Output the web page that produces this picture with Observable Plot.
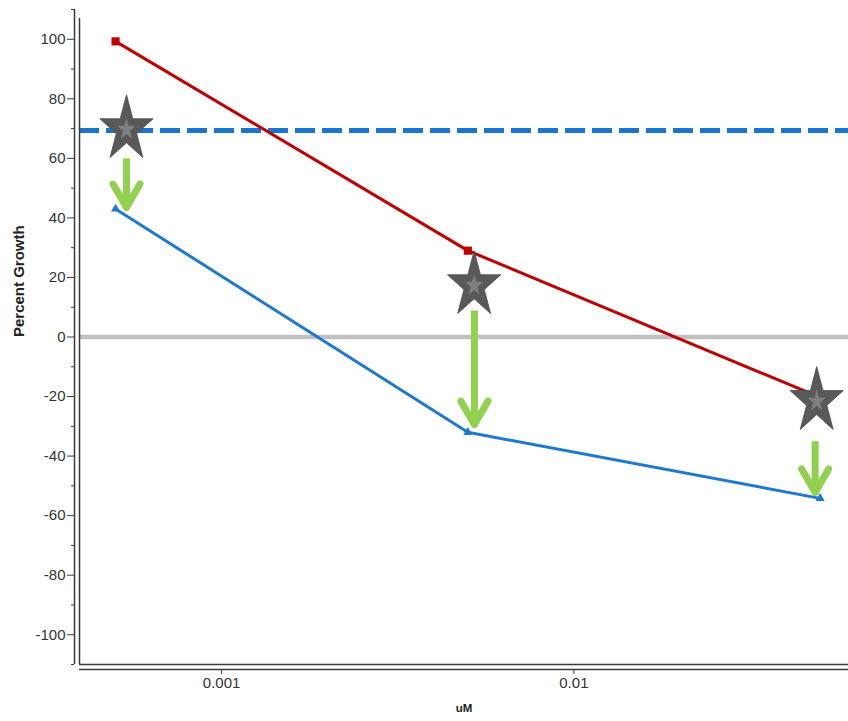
<!DOCTYPE html>
<html>
<head>
<meta charset="utf-8">
<script src="https://cdn.jsdelivr.net/npm/d3@7"></script>
<script src="https://cdn.jsdelivr.net/npm/@observablehq/plot@0.6"></script>
<style>
  html, body { margin: 0; padding: 0; background: #fff; }
</style>
</head>
<body>
<div id="chart"></div>
<script>
// Concentrations tested (uM)
const concentrations = [0.0005, 0.005, 0.05];
// Percent growth of the two series at each concentration
const redSeries = [99.3, 29, -20.3];
const blueSeries = [43, -32, -54.2];

// Reference levels
const thresholdLevel = 69.4;
const zeroLevel = 0;

// Star callouts
const starX = [0.000537, 0.00521, 0.0489];
const starY = [69.7, 17.3, -21.6];

// Arrows dropping from each star toward the blue series
const arrowX = [0.000537, 0.00522, 0.0484];
const arrowFrom = [60, 8.9, -35];
const arrowTo = [43.5, -29.4, -52.2];

// Axis setup
const xDomain = [0.000395, 0.0602];
const yDomain = [-110, 110];
const xTicks = [0.001, 0.01];
const xTickLabels = ["0.001", "0.01"];
const yTicks = [-100, -80, -60, -40, -20, 0, 20, 40, 60, 80, 100];
const yMinorTicks = [-110, -90, -70, -50, -30, -10, 10, 30, 50, 70, 90, 110];

const rows = concentrations.map((c, i) => ({c, red: redSeries[i], blue: blueSeries[i]}));
const stars = starX.map((x, i) => ({x, y: starY[i]}));
const arrows = arrowX.map((x, i) => ({x, from: arrowFrom[i], to: arrowTo[i]}));

// Five-pointed star, stretched vertically
function tallStar(stretch) {
  return {
    draw(context, size) {
      const r = Math.sqrt(size / Math.PI);
      const inner = r * 0.382;
      for (let i = 0; i < 10; i++) {
        const rad = i % 2 ? inner : r;
        const a = -Math.PI / 2 + i * Math.PI / 5;
        const px = rad * Math.cos(a);
        const py = rad * Math.sin(a) * stretch;
        if (i) context.lineTo(px, py); else context.moveTo(px, py);
      }
      context.closePath();
    }
  };
}

// Open arrowhead with its apex at the anchor point
const chevron = {
  draw(context, size) {
    const r = Math.sqrt(size / Math.PI);
    const a = 30 * Math.PI / 180;
    context.moveTo(-r * Math.sin(a), -r * Math.cos(a));
    context.lineTo(0, 0);
    context.lineTo(r * Math.sin(a), -r * Math.cos(a));
  }
};

const axisColor = "#3a3a3a";
const green = "#92d050";

const chart = Plot.plot({
  width: 848,
  height: 721,
  marginLeft: 79,
  marginRight: 0,
  marginTop: 9,
  marginBottom: 57,
  style: {
    fontFamily: "'Liberation Sans', Arial, sans-serif",
    fontSize: "15px",
    color: "#333",
    background: "#fff"
  },
  x: {type: "log", domain: xDomain},
  y: {domain: yDomain},
  marks: [
    // zero line
    Plot.ruleY([zeroLevel], {stroke: "#c0c0c0", strokeWidth: 4.5}),
    // dashed threshold
    Plot.ruleY([thresholdLevel], {stroke: "#1a75d1", strokeWidth: 5, strokeDasharray: "20,7"}),

    // double-line axes
    Plot.ruleX([xDomain[0]], {y1: yDomain[0], y2: yDomain[1], dx: -5, stroke: axisColor, strokeWidth: 1.5}),
    Plot.ruleX([xDomain[0]], {y1: yDomain[0], y2: 107, stroke: axisColor, strokeWidth: 1.5}),
    Plot.ruleY([yDomain[0]], {stroke: axisColor, strokeWidth: 1.5}),
    Plot.ruleY([yDomain[0]], {dy: 5, stroke: axisColor, strokeWidth: 1.5}),

    Plot.axisY({ticks: yTicks, tickFormat: d => String(d), tickSize: 7, tickPadding: 2, dx: -5, label: null, stroke: axisColor}),
    Plot.axisY({ticks: yMinorTicks, tickFormat: () => "", tickSize: 3, dx: -5, label: null, stroke: axisColor}),
    Plot.axisX({ticks: xTicks, tickFormat: d => xTickLabels[xTicks.indexOf(d)], tickSize: 5, tickPadding: 3, dy: 5, label: null, stroke: axisColor}),

    Plot.text(["Percent Growth"], {frameAnchor: "left", dx: -60, rotate: -90, fontWeight: "bold", fontSize: 15, fill: "#222"}),
    Plot.text(["uM"], {frameAnchor: "bottom", dy: 47, fontWeight: "bold", fontSize: 11.5, fill: "#222"}),

    // series
    Plot.line(rows, {x: "c", y: "red", stroke: "#c00000", strokeWidth: 3}),
    Plot.line(rows, {x: "c", y: "blue", stroke: "#1f78d3", strokeWidth: 3}),
    Plot.dot(rows, {x: "c", y: "red", symbol: "square", r: 4.6, fill: "#c00000", stroke: "none"}),
    Plot.dot(rows, {x: "c", y: "blue", symbol: "triangle", r: 3.4, fill: "#1f78d3", stroke: "none"}),

    // star callouts
    Plot.dot(stars, {x: "x", y: "y", symbol: tallStar(1.24), r: 28, fill: "#595959", stroke: "#4a4a4a", strokeWidth: 0.8}),
    Plot.dot(stars, {x: "x", y: "y", symbol: tallStar(1.24), r: 9.5, fill: "#7f7f7f", stroke: "none"}),

    // green arrows
    Plot.link(arrows, {x1: "x", x2: "x", y1: "from", y2: "to", stroke: green, strokeWidth: 7}),
    Plot.dot(arrows, {x: "x", y: "to", symbol: chevron, r: 27, fill: "none", stroke: green, strokeWidth: 7, strokeLinecap: "round", strokeLinejoin: "round"})
  ]
});

document.getElementById("chart").appendChild(chart);
</script>
</body>
</html>
